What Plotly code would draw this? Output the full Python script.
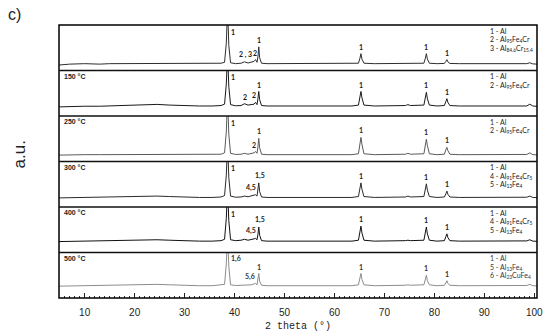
import plotly.graph_objects as go

# ---------------- data ----------------
two_theta = [4.8, 7, 10, 13, 15, 17.5, 20, 22, 24.5, 27,
             30, 33, 35.5, 37.3, 38.0, 38.35, 38.6, 38.85, 39.2, 40.2,
             41.3, 42.0, 42.7, 43.4, 43.9, 44.2, 44.5, 44.68, 44.85, 45.02,
             45.4, 46.5, 49, 52, 55, 58, 61, 63.5, 64.8, 65.1,
             65.3, 65.5, 65.9, 68, 71, 74.2, 74.7, 75.2, 77.9, 78.2,
             78.4, 78.6, 79.0, 80.5, 82.0, 82.3, 82.5, 82.7, 83.1, 85,
             88, 91, 94, 96.5, 98.5, 99.1, 99.7, 100.7]

# intensity, % of each panel height
i_rt = [12, 14, 15, 14, 15, 15, 14.5, 15, 15, 15,
        14.5, 15, 15, 16, 18, 60, 140, 55, 17, 15,
        16, 19, 16.5, 18, 20, 24, 18, 30, 52, 28,
        16, 15, 15, 14.5, 15, 15, 14.5, 15, 16, 27,
        37, 25, 16, 15, 15, 15, 16, 15, 16, 27,
        37, 25, 16, 15, 15.5, 20, 24, 19, 15.5, 15,
        15, 14.5, 15, 14.5, 15, 17, 14.5, 14]
i_150 = [20, 21, 21.5, 21.5, 22, 22.5, 23.5, 25, 25.5, 24,
         22.5, 22, 22, 23, 26, 70, 140, 65, 25, 22.5,
         23, 27, 24, 25, 26, 30, 25, 38, 54, 36,
         23, 22, 22, 22, 22, 22, 22, 22, 24, 42,
         54, 40, 24, 22, 22, 23, 25, 23, 24, 40,
         52, 38, 24, 22, 23, 32, 38, 30, 23, 22,
         22, 22, 22, 22, 22, 26, 22, 21]
i_250 = [14, 15, 15, 15, 15, 15.5, 15.5, 16, 16, 15.5,
         15, 15, 15, 16, 19, 65, 140, 60, 18, 15.5,
         16, 18, 16, 17, 19, 22, 18, 32, 51, 30,
         16, 15, 15, 15, 15, 15, 15, 15, 17, 40,
         53, 38, 17, 15, 15, 16, 18, 16, 17, 37,
         49, 35, 17, 15, 16, 26, 31, 24, 16, 15,
         15, 15, 15, 15, 15.5, 19, 15, 14.5]
i_300 = [20, 20.5, 21, 21, 21.5, 23, 22, 22.5, 24, 23,
         21.5, 21, 21, 22, 25, 70, 140, 65, 24, 21.5,
         22, 24, 22.5, 24, 26, 27, 24, 36, 53, 34,
         22, 21, 21, 21, 21, 21, 21, 21, 23, 41,
         53, 39, 23, 21, 21, 22, 24, 22, 23, 39,
         51, 37, 23, 21, 22, 29, 35, 28, 22, 21,
         21, 21, 21, 21, 21.5, 24, 21, 20.5]
i_400 = [24, 24.5, 25, 25, 25.5, 27, 26, 26.5, 28, 27,
         25.5, 25, 25, 26, 29, 75, 140, 70, 28, 26,
         27, 29, 27, 28, 30, 31, 28, 40, 56, 38,
         26, 25, 25, 25, 25, 25, 25, 25, 27, 45,
         58, 43, 27, 25, 25, 26, 27, 26, 27, 43,
         56, 41, 27, 25, 26, 35, 41, 33, 26, 25,
         25, 25, 25, 25, 25.5, 28, 25, 24.5]
i_500 = [26, 26.5, 27, 27, 27.5, 29, 28, 28.5, 30, 29,
         27.5, 27, 27, 28, 30, 75, 140, 70, 29, 27.5,
         28, 29, 28, 29, 31, 32, 29, 40, 54, 37,
         28, 27, 27, 27, 27, 27, 27, 27, 29, 44,
         54, 41, 29, 27, 27, 28, 29, 28, 29, 40,
         50, 38, 29, 27, 28, 33, 38, 32, 28, 27,
         27, 27, 27, 27, 27.5, 30, 27, 26.5]

panel_labels = ["", "150 °C", "250 °C", "300 °C", "400 °C", "500 °C"]

ph1 = "1 - Al"
ph2 = "2 - Al<sub>95</sub>Fe<sub>4</sub>Cr"
ph3 = "3 - Al<sub>84.6</sub>Cr<sub>15.4</sub>"
ph4 = "4 - Al<sub>91</sub>Fe<sub>4</sub>Cr<sub>5</sub>"
ph5 = "5 - Al<sub>13</sub>Fe<sub>4</sub>"
ph6 = "6 - Al<sub>23</sub>CuFe<sub>4</sub>"
phases = [[ph1, ph2, ph3], [ph1, ph2], [ph1, ph2],
          [ph1, ph4, ph5], [ph1, ph4, ph5], [ph1, ph5, ph6]]

# peak marks: (text, text 2theta, peak 2theta)
marks = [
    [("1", 39.7, 38.6), ("2 , 3", 42.1, 42.0), ("2", 44.1, 44.2), ("1", 44.9, 44.85),
     ("1", 65.3, 65.3), ("1", 78.4, 78.4), ("1", 82.5, 82.5)],
    [("1", 39.7, 38.6), ("2", 42.1, 42.0), ("2", 43.9, 44.2), ("1", 44.9, 44.85),
     ("1", 65.3, 65.3), ("1", 78.4, 78.4), ("1", 82.5, 82.5)],
    [("1", 39.6, 38.6), ("2", 43.9, 44.2), ("1", 44.9, 44.85),
     ("1", 65.3, 65.3), ("1", 78.4, 78.4), ("1", 82.5, 82.5)],
    [("1", 39.7, 38.6), ("4,5", 43.3, 44.2), ("1,5", 45.0, 44.85),
     ("1", 65.3, 65.3), ("1", 78.4, 78.4), ("1", 82.5, 82.5)],
    [("1", 39.7, 38.6), ("4,5", 43.3, 44.2), ("1,5", 45.0, 44.85),
     ("1", 65.3, 65.3), ("1", 78.4, 78.4), ("1", 82.5, 82.5)],
    [("1,6", 40.2, 38.6), ("5,6", 43.0, 44.2), ("1", 44.9, 44.85),
     ("1", 65.3, 65.3), ("1", 78.4, 78.4), ("1", 82.5, 82.5)],
]

series = [i_rt, i_150, i_250, i_300, i_400, i_500]
colors = ["#2e2e2e", "#1a1a1a", "#5a5a5a", "#2a2a2a", "#111111", "#8c8c8c"]
label_colors = ["#1a1a1a", "#1a1a1a", "#262626", "#1a1a1a", "#1a1a1a", "#333333"]

# ---------------- figure ----------------
fig = go.Figure()
n = len(series)
layout_axes = {}
annotations = []
for i, vals in enumerate(series):
    k = n - i  # top panel -> highest axis number
    yname = "y" if k == 1 else f"y{k}"
    ykey = "yaxis" if k == 1 else f"yaxis{k}"
    fig.add_trace(go.Scatter(x=two_theta, y=vals, mode="lines", xaxis="x", yaxis=yname,
                             line=dict(color=colors[i], width=1), showlegend=False,
                             hoverinfo="skip"))
    layout_axes[ykey] = dict(domain=[(k - 1) / n, k / n], range=[0, 100], visible=False,
                             fixedrange=True)
    if panel_labels[i]:
        annotations.append(dict(x=5.5, y=87, xref="x", yref=yname, text=panel_labels[i],
                                showarrow=False, xanchor="left", yanchor="middle",
                                font=dict(family="Liberation Sans", size=7, weight="bold",
                                          color="#222222")))
    for j, ph in enumerate(phases[i]):
        annotations.append(dict(x=90.7, y=87 - 19 * j, xref="x", yref=yname, text=ph,
                                showarrow=False, xanchor="left", yanchor="middle",
                                font=dict(family="Lato", size=7, color=label_colors[i])))
    for (txt, xt, xp) in marks[i]:
        idx = min(range(len(two_theta)), key=lambda q: abs(two_theta[q] - xp))
        yv = min(vals[idx], 70) + 2
        annotations.append(dict(x=xt, y=yv, xref="x", yref=yname, text=txt,
                                showarrow=False, xanchor="center", yanchor="bottom",
                                font=dict(family="Lato", size=7, weight="bold",
                                          color=label_colors[i])))

# frame and separators
shapes = [dict(type="rect", xref="paper", yref="paper", x0=0, x1=1, y0=0, y1=1,
               line=dict(color="black", width=1.5))]
for k in range(1, n):
    shapes.append(dict(type="line", xref="paper", yref="paper", x0=0, x1=1, y0=k / n, y1=k / n,
                       line=dict(color="#111111", width=1.3)))

W, H = 550, 333
ml, mr, mt, mb = 59, 7, 25, 35
pw, ph_ = W - ml - mr, H - mt - mb

def px(x, y):
    return (x - ml) / pw, (H - y - mb) / ph_

ax, ay = px(301, 326)
annotations.append(dict(x=ax, y=ay, xref="paper", yref="paper", text="2 theta (°)",
                        showarrow=False, xanchor="center", yanchor="middle",
                        font=dict(family="Liberation Mono", size=10, color="#222222")))
ax, ay = px(19, 154)
annotations.append(dict(x=ax, y=ay, xref="paper", yref="paper", text="a.u.",
                        showarrow=False, textangle=-90, xanchor="center", yanchor="middle",
                        font=dict(family="Liberation Sans", size=17, color="#222222")))
ax, ay = px(14, 15)
annotations.append(dict(x=ax, y=ay, xref="paper", yref="paper", text="c)",
                        showarrow=False, xanchor="center", yanchor="middle",
                        font=dict(family="Liberation Sans", size=16, color="#222222")))

fig.update_layout(
    width=W, height=H,
    margin=dict(l=ml, r=mr, t=mt, b=mb),
    paper_bgcolor="white", plot_bgcolor="white",
    xaxis=dict(range=[4.86, 100.54], anchor="y", dtick=10, tick0=0, ticks="inside",
               ticklen=5, tickwidth=1, tickcolor="#222222", showgrid=False, zeroline=False,
               showline=False, fixedrange=True, ticklabelstandoff=7,
               tickfont=dict(family="Liberation Sans", size=10, color="#222222"),
               minor=dict(dtick=1, ticks="inside", ticklen=2.5, tickwidth=0.8,
                          tickcolor="#333333", showgrid=False)),
    annotations=annotations,
    shapes=shapes,
    **layout_axes,
)

fig.write_html("out.html", config={"displayModeBar": False},
               post_script="document.body.style.margin='0';document.body.style.overflow='hidden';")
